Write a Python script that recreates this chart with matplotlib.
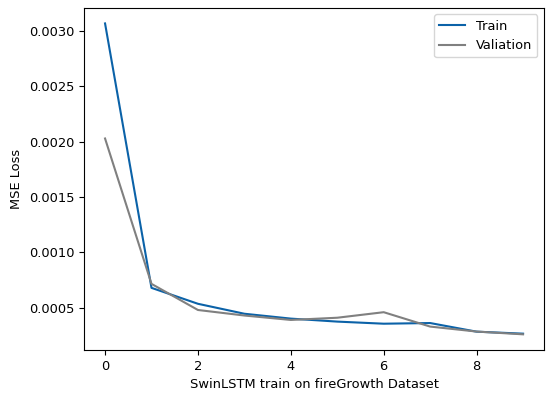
import numpy as np
import matplotlib.pyplot as plt

plt.rcParams["font.size"] = 9.4

epochs = list(range(10))
train_loss = [0.00307, 0.00068, 0.000536, 0.000446, 0.000402, 0.000375, 0.000356, 0.000362, 0.000284, 0.000266]
val_loss = [0.00203, 0.000716, 0.00048, 0.00043, 0.00039, 0.00041, 0.00046, 0.00033, 0.000285, 0.00026]

fig = plt.figure(figsize=(5.5, 3.94), dpi=100)
ax = fig.add_subplot()
fig.subplots_adjust(left=0.153, right=0.989, top=0.98, bottom=0.112)
ax.plot(epochs, train_loss, color="#0b62a8", lw=1.5, label="Train")
ax.plot(epochs, val_loss, color="#808080", lw=1.5, label="Valiation")
ax.set_xlabel("SwinLSTM train on fireGrowth Dataset")
ax.set_ylabel("MSE Loss")
ax.legend()
fig.savefig("out.png", dpi=100)
